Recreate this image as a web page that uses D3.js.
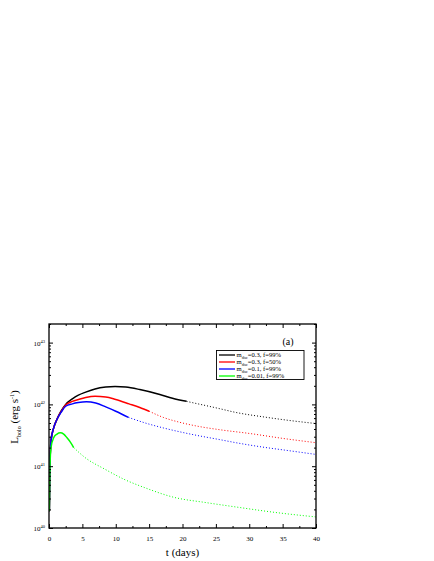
<!DOCTYPE html>
<html><head><meta charset="utf-8">
<script src="https://cdn.jsdelivr.net/npm/d3@7"></script>
<style>body{margin:0;background:#fff}svg{display:block}text{font-family:"Liberation Serif","Times New Roman",serif;font-weight:normal}</style>
</head><body>
<svg id="c" width="434" height="561" font-family="Liberation Serif"></svg>
<script>
// ---- data (t in days, L in erg/s) ----
const seriesNames = ["m_disc=0.3, f=99%", "m_disc=0.3, f=50%", "m_disc=0.1, f=99%", "m_disc=0.01, f=99%"];
const legendMass = ["0.3", "0.3", "0.1", "0.01"];
const legendF = ["99%", "50%", "99%", "99%"];
const seriesColors = ["#000000", "#ff0000", "#0000ff", "#00ff00"];

const blackSolidT = [0.05,0.1,0.15,0.3,0.7,1.2,1.8,2.5,3.5,4.4,5.5,6.9,8.5,9.9,11.5,13.6,16.6,18.5,20.6];
const blackSolidL = [1.86e40,5.01e40,1.12e41,2.57e41,4.17e41,5.75e41,7.76e41,1.00e42,1.23e42,1.41e42,1.58e42,1.78e42,1.91e42,1.95e42,1.91e42,1.74e42,1.45e42,1.26e42,1.12e42];
const blackDotT = [20.6,25.6,28,32,36,40];
const blackDotL = [1.12e42,8.51e41,7.41e41,6.31e41,5.50e41,4.90e41];

const redSolidT = [0.05,0.1,0.15,0.3,0.7,1.2,1.8,2.5,3.5,4.4,5.5,6.9,8.5,10,12,13.6,15];
const redSolidL = [1.86e40,5.01e40,1.12e41,2.57e41,4.17e41,5.75e41,7.59e41,9.77e41,1.12e42,1.20e42,1.29e42,1.35e42,1.32e42,1.20e42,1.02e42,8.91e41,7.76e41];
const redDotT = [15,17.1,19.6,22.1,25.6,30,35,40];
const redDotL = [7.76e41,6.17e41,5.13e41,4.47e41,3.89e41,3.39e41,2.82e41,2.40e41];

const blueSolidT = [0.05,0.1,0.15,0.3,0.7,1.2,1.8,2.5,3.5,4.4,5.6,7,8.5,10,11.9];
const blueSolidL = [1.86e40,5.01e40,1.12e41,2.57e41,4.17e41,5.75e41,7.41e41,9.33e41,1.02e42,1.07e42,1.10e42,1.05e42,9.12e41,7.76e41,6.17e41];
const blueDotT = [11.9,14.4,17.1,22.1,25.6,28,32,36,40];
const blueDotL = [6.17e41,5.01e41,4.17e41,3.16e41,2.69e41,2.40e41,2.04e41,1.78e41,1.55e41];

const greenSolidT = [0.05,0.1,0.15,0.3,0.7,1.2,1.7,2.2,2.7,3.2,3.7];
const greenSolidL = [1.86e40,5.01e40,1.00e41,2.00e41,2.88e41,3.31e41,3.47e41,3.31e41,2.88e41,2.45e41,2.00e41];
const greenDotT = [3.7,5.4,8.4,11.4,14.4,18.6,23.6,28,34,40];
const greenDotL = [2.00e41,1.38e41,8.91e40,6.03e40,4.47e40,3.16e40,2.57e40,2.19e40,1.78e40,1.51e40];

const xTicks = [0,5,10,15,20,25,30,35,40];
const xMinorTicks = [2.5,7.5,12.5,17.5,22.5,27.5,32.5,37.5];
const yTickExps = [40,41,42,43];
const panelLabel = "(a)";

// ---- layout ----
const L = 49, R = 316, T = 324, B = 528;
const svg = d3.select("#c");
const x = d3.scaleLinear().domain([0,40]).range([L,R]);
const y = d3.scaleLog().domain([1e40, 2e43]).range([B,T]);

const solids = [[blackSolidT,blackSolidL],[redSolidT,redSolidL],[blueSolidT,blueSolidL],[greenSolidT,greenSolidL]];
const dots = [[blackDotT,blackDotL],[redDotT,redDotL],[blueDotT,blueDotL],[greenDotT,greenDotL]];

const line = d3.line().x(d=>x(d[0])).y(d=>y(d[1])).curve(d3.curveMonotoneX);
svg.append("clipPath").attr("id","cp").append("rect").attr("x",L).attr("y",T).attr("width",R-L).attr("height",B-T);
const g = svg.append("g").attr("clip-path","url(#cp)");

dots.forEach((s,i)=>{
  const pts = s[0].map((t,k)=>[t,s[1][k]]);
  g.append("path").attr("d",line(pts)).attr("fill","none").attr("stroke",seriesColors[i])
    .attr("stroke-width",1).attr("stroke-dasharray","1,2");
});
solids.forEach((s,i)=>{
  const pts = s[0].map((t,k)=>[t,s[1][k]]);
  g.append("path").attr("d",line(pts)).attr("fill","none").attr("stroke",seriesColors[i])
    .attr("stroke-width",1.5);
});

// axes (ticks inward)
const gB = svg.append("g").attr("transform",`translate(0,${B})`)
  .call(d3.axisBottom(x).tickValues(xTicks).tickSize(-4).tickFormat(d=>d).tickPadding(8));
svg.append("g").attr("transform",`translate(0,${B})`).call(d3.axisBottom(x).tickValues(xMinorTicks).tickSize(-2).tickFormat(""));
svg.append("g").attr("transform",`translate(0,${T})`).call(d3.axisTop(x).tickValues(xTicks).tickSize(-4).tickFormat(""));
svg.append("g").attr("transform",`translate(0,${T})`).call(d3.axisTop(x).tickValues(xMinorTicks).tickSize(-2).tickFormat(""));

const majorY = yTickExps.map(e=>Math.pow(10,e));
const minorY = [];
yTickExps.forEach(e=>{ for(let m=2;m<=9;m++){ const v=m*Math.pow(10,e); if(v<=2e43) minorY.push(v);} });
svg.append("g").attr("transform",`translate(${L},0)`).call(d3.axisLeft(y).tickValues(majorY).tickSize(-4).tickFormat(""));
svg.append("g").attr("transform",`translate(${L},0)`).call(d3.axisLeft(y).tickValues(minorY).tickSize(-2).tickFormat(""));
svg.append("g").attr("transform",`translate(${R},0)`).call(d3.axisRight(y).tickValues(majorY).tickSize(-4).tickFormat(""));
svg.append("g").attr("transform",`translate(${R},0)`).call(d3.axisRight(y).tickValues(minorY).tickSize(-2).tickFormat(""));

svg.selectAll(".domain").remove();
svg.selectAll(".tick line").attr("stroke","#000").attr("stroke-width",1);
svg.selectAll("g").attr("font-family",null);
gB.selectAll(".tick text").attr("font-size",7).attr("fill","#000");

// y tick labels
yTickExps.forEach(e=>{
  const t = svg.append("text").attr("x",L-4).attr("y",y(Math.pow(10,e))+3).attr("text-anchor","end")
    .attr("font-size",7).attr("fill","#000");
  t.append("tspan").text("10");
  t.append("tspan").attr("font-size",4.5).attr("dy",-3).text(e);
});

// frame
svg.append("rect").attr("x",L).attr("y",T).attr("width",R-L).attr("height",B-T)
  .attr("fill","none").attr("stroke","#000").attr("stroke-width",1.3);

// axis labels
svg.append("text").attr("x",(L+R)/2).attr("y",556).attr("text-anchor","middle").attr("font-size",11).text("t (days)");
const yl = svg.append("text").attr("transform","translate(18,417) rotate(-90)").attr("text-anchor","middle").attr("font-size",11);
yl.append("tspan").text("L");
yl.append("tspan").attr("font-size",6).attr("dy",2.5).text("bolo");
yl.append("tspan").attr("dy",-2.5).text(" (erg s");
yl.append("tspan").attr("font-size",6).attr("dy",-4).text("-1");
yl.append("tspan").attr("dy",4).text(")");

svg.append("text").attr("x",288).attr("y",345).attr("text-anchor","middle").attr("font-size",10).text(panelLabel);

// legend
const lg = svg.append("g");
lg.append("rect").attr("x",216.5).attr("y",350.5).attr("width",87.5).attr("height",29)
  .attr("fill","#fff").attr("stroke","#000").attr("stroke-width",0.9);
seriesNames.forEach((n,i)=>{
  const yy = 355 + i*7;
  lg.append("line").attr("x1",219).attr("x2",235).attr("y1",yy).attr("y2",yy)
    .attr("stroke",seriesColors[i]).attr("stroke-width",1.3);
  const t = lg.append("text").attr("x",236.5).attr("y",yy+2.2).attr("font-size",6.6).attr("fill","#000");
  t.append("tspan").text("m");
  t.append("tspan").attr("font-size",3.8).attr("dy",2).text("disc");
  t.append("tspan").attr("dy",-2).text("=" + legendMass[i] + ", f=" + legendF[i]);
});
</script>
</body></html>
